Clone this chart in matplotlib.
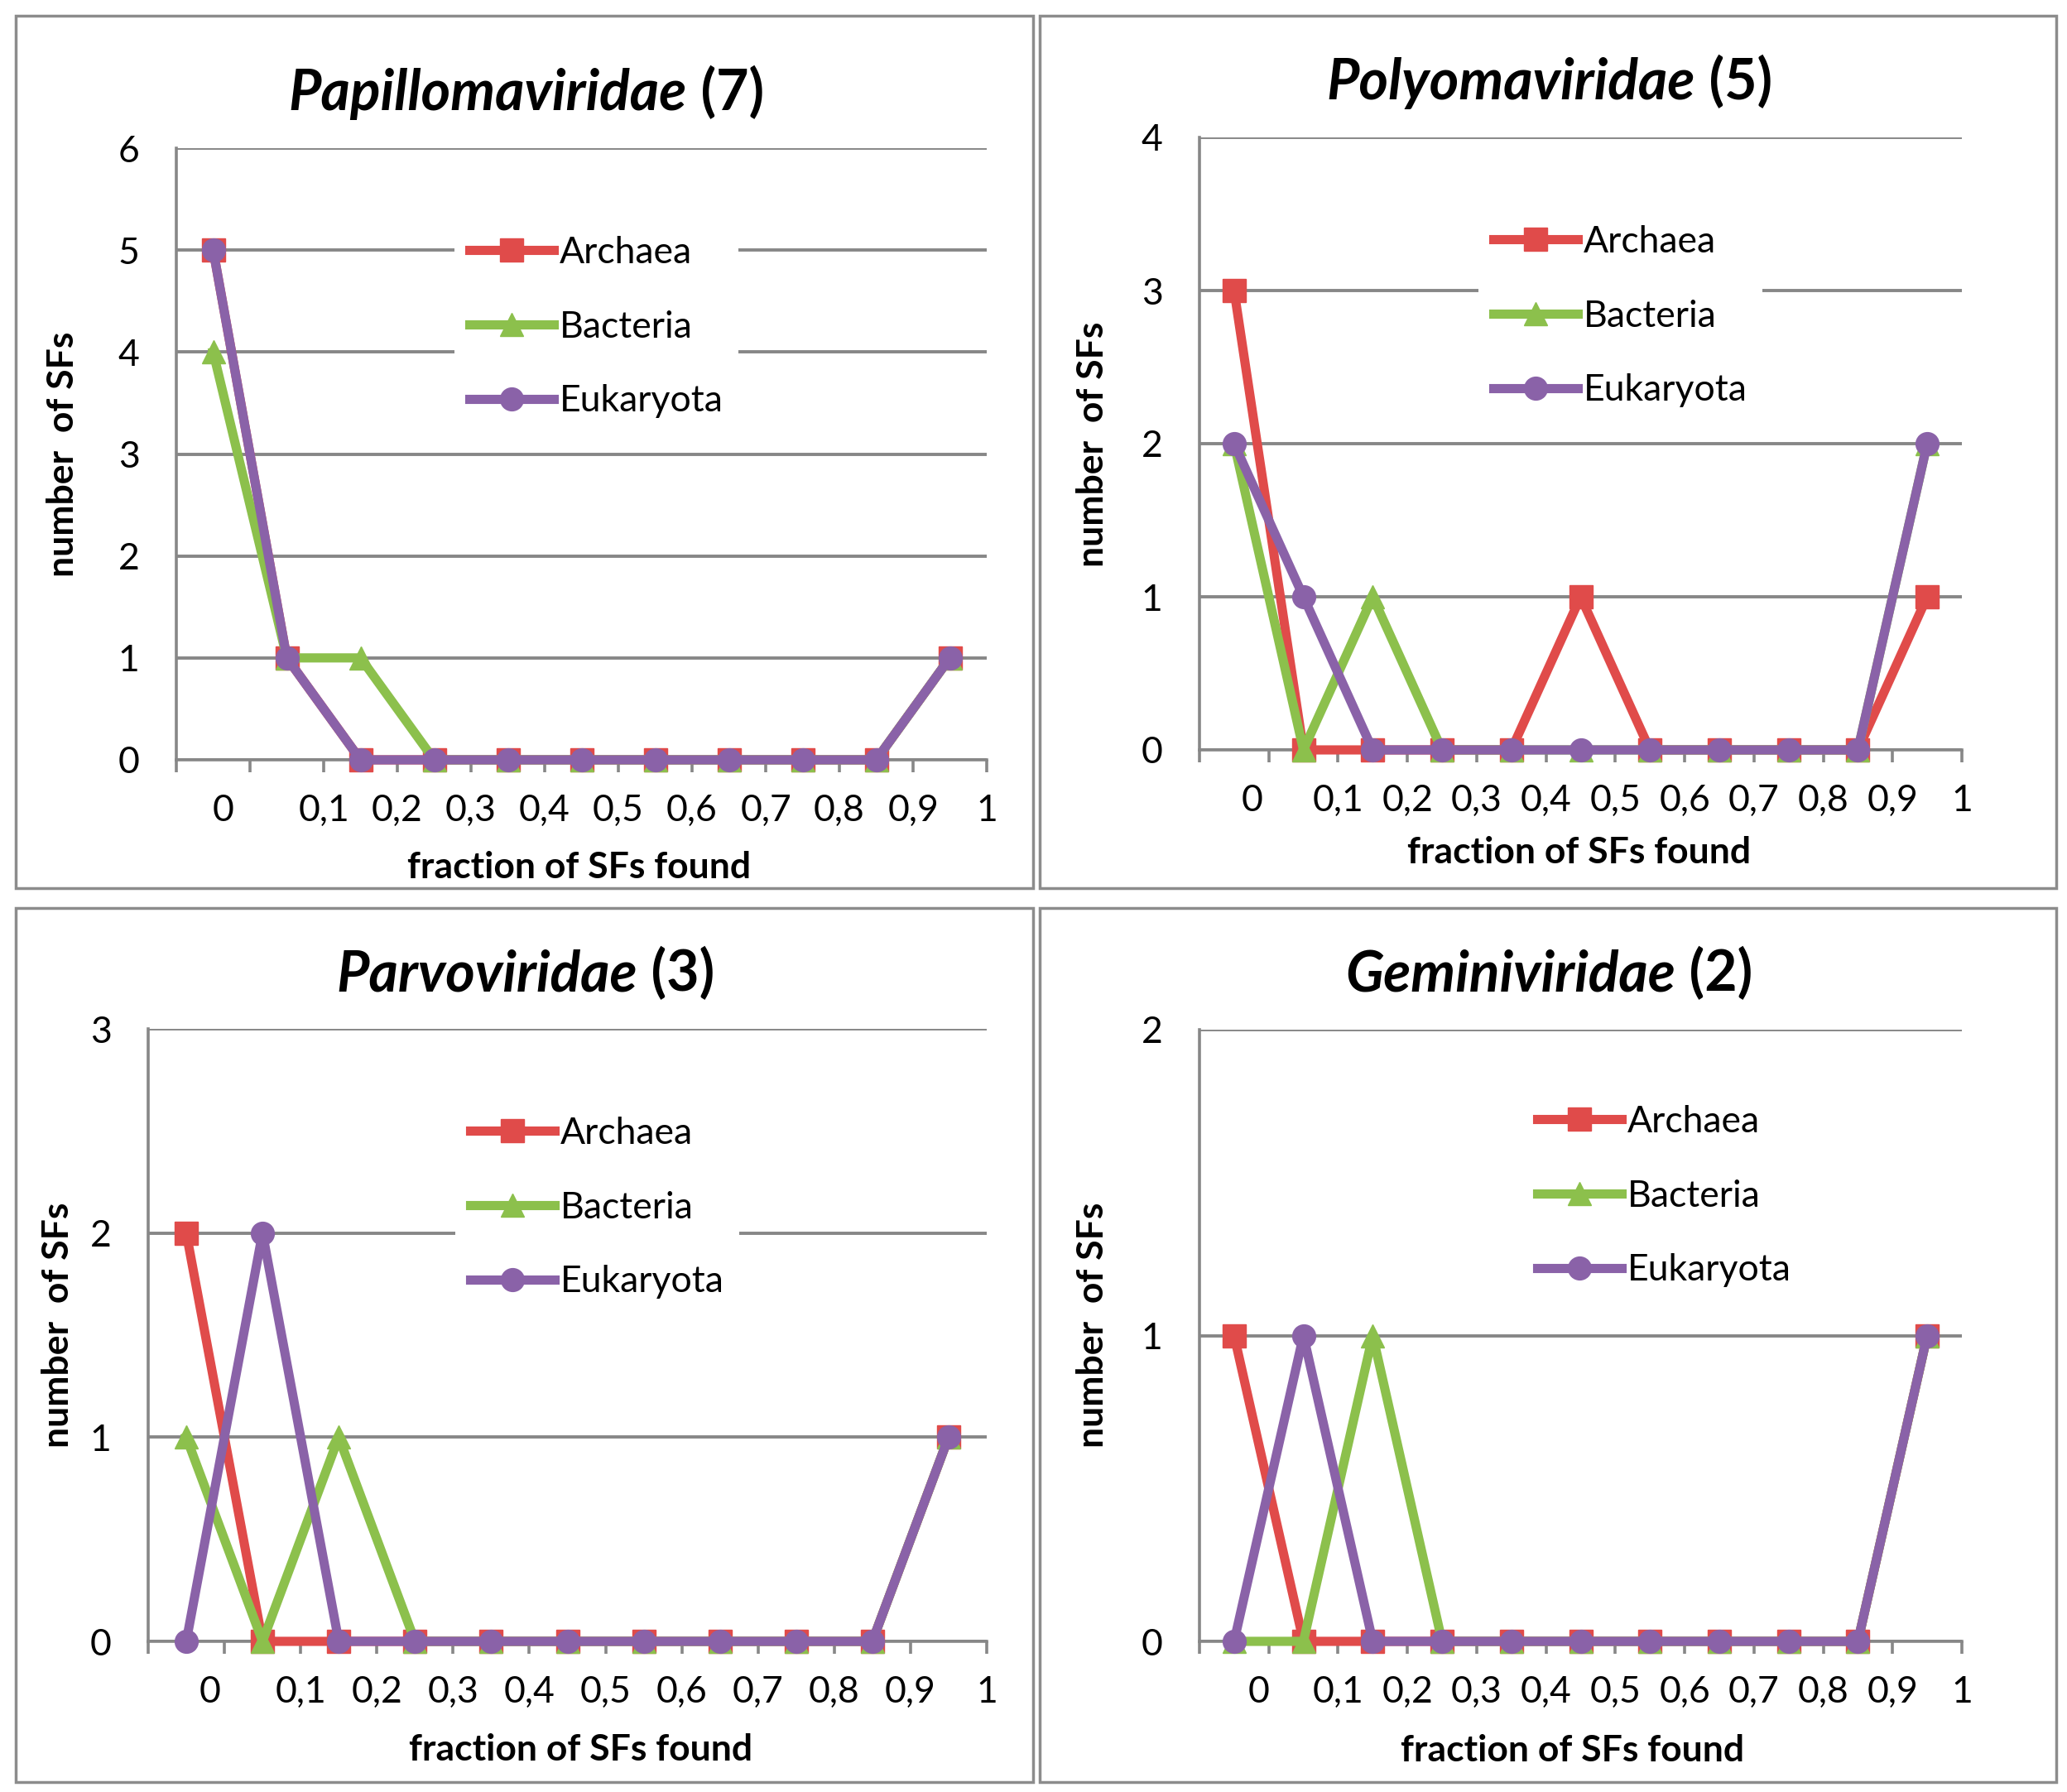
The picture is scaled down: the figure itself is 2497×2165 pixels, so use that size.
import numpy as np
import matplotlib
matplotlib.use("Agg")
import matplotlib.pyplot as plt
from matplotlib.patches import Rectangle

plt.rcParams['font.family'] = ['Lato', 'DejaVu Sans']

W, H = 2497, 2165
DPI = 100
PT = DPI / 72.0  # pixels per point

# ---- data -------------------------------------------------------------
FRACTION_LABELS = ["0", "0,1", "0,2", "0,3", "0,4", "0,5", "0,6", "0,7", "0,8", "0,9", "1"]
DOMAINS = ["Archaea", "Bacteria", "Eukaryota"]

FAMILIES = ["Papillomaviridae", "Polyomaviridae", "Parvoviridae", "Geminiviridae"]
FAMILY_COUNTS = [7, 5, 3, 2]
Y_MAX = [6, 4, 3, 2]

papillo_archaea = [5, 1, 0, 0, 0, 0, 0, 0, 0, 0, 1]
papillo_bacteria = [4, 1, 1, 0, 0, 0, 0, 0, 0, 0, 1]
papillo_eukaryota = [5, 1, 0, 0, 0, 0, 0, 0, 0, 0, 1]

polyoma_archaea = [3, 0, 0, 0, 0, 1, 0, 0, 0, 0, 1]
polyoma_bacteria = [2, 0, 1, 0, 0, 0, 0, 0, 0, 0, 2]
polyoma_eukaryota = [2, 1, 0, 0, 0, 0, 0, 0, 0, 0, 2]

parvo_archaea = [2, 0, 0, 0, 0, 0, 0, 0, 0, 0, 1]
parvo_bacteria = [1, 0, 1, 0, 0, 0, 0, 0, 0, 0, 1]
parvo_eukaryota = [0, 2, 0, 0, 0, 0, 0, 0, 0, 0, 1]

gemini_archaea = [1, 0, 0, 0, 0, 0, 0, 0, 0, 0, 1]
gemini_bacteria = [0, 0, 1, 0, 0, 0, 0, 0, 0, 0, 1]
gemini_eukaryota = [0, 1, 0, 0, 0, 0, 0, 0, 0, 0, 1]

SERIES = [
    [papillo_archaea, papillo_bacteria, papillo_eukaryota],
    [polyoma_archaea, polyoma_bacteria, polyoma_eukaryota],
    [parvo_archaea, parvo_bacteria, parvo_eukaryota],
    [gemini_archaea, gemini_bacteria, gemini_eukaryota],
]

# ---- style ------------------------------------------------------------
COLORS = ["#E04B4A", "#8CC04C", "#8A62A8"]
MARKERS = ["s", "^", "o"]
GRAY = "#878787"

# layout, in pixels of the final image
# axes box: left, top, right, bottom
AX_BOX = [(213, 179, 1192, 918), (1449, 166, 2370, 906),
          (179, 1243, 1192, 1983), (1449, 1244, 2370, 1983)]
PANEL_BOX = [(19, 19, 1248, 1073), (1256, 19, 2484, 1073),
             (19, 1097, 1248, 2153), (1256, 1097, 2484, 2153)]
TITLE_POS = [(636, 133), (1872, 120), (635, 1197), (1871, 1197)]
YLABEL_POS = [(76, 549), (1320, 537), (70, 1601), (1320, 1601)]
XLABEL_POS = [(700, 1048), (1908, 1030), (702, 2114), (1900, 2115)]
LEGEND_POS = [(567, 395), (1804, 382), (568, 1459), (1857, 1445)]
ZERO_LABEL_X = [0.14, 0.26, 0.31, 0.35]

TICK_FS = 32
LEG_FS = 32
LABEL_FS = 32
TITLE_FS = 49

fig = plt.figure(figsize=(W / DPI, H / DPI), dpi=DPI)
fig.patch.set_facecolor("white")

titles = []
for i, fam in enumerate(FAMILIES):
    l, t, r, b = AX_BOX[i]
    ax = fig.add_axes([l / W, 1 - b / H, (r - l) / W, (b - t) / H])
    x = np.arange(len(FRACTION_LABELS))
    for vals, name, c, m in zip(SERIES[i], DOMAINS, COLORS, MARKERS):
        ax.plot(x, vals, color=c, lw=8, marker=m, ms=20, mfc=c, mec=c,
                label=name, clip_on=False, zorder=3)

    ax.set_xlim(-0.5, len(x) - 0.5)
    ax.set_ylim(0, Y_MAX[i])

    ax.set_xticks(np.arange(-0.5, len(x) + 0.5, 1),
                  labels=["", ""] + FRACTION_LABELS[1:])
    ax.set_xticks([ZERO_LABEL_X[i]], labels=[FRACTION_LABELS[0]], minor=True)
    ax.tick_params(axis="x", which="major", length=15 / PT, width=2.6,
                   color=GRAY, pad=19, labelsize=TICK_FS)
    ax.tick_params(axis="x", which="minor", length=0, pad=19 + 15 / PT,
                   labelsize=TICK_FS)
    ax.set_yticks(range(Y_MAX[i] + 1))
    ax.tick_params(axis="y", length=0, pad=32, labelsize=TICK_FS)

    ax.yaxis.grid(True, color=GRAY, lw=2.8)
    ax.set_axisbelow(True)
    for s in ["top", "right"]:
        ax.spines[s].set_visible(False)
    for s in ["left", "bottom"]:
        ax.spines[s].set_color(GRAY)
        ax.spines[s].set_linewidth(2.6)

    ax.set_ylabel("number  of SFs", fontsize=LABEL_FS, fontweight="bold")
    ax.yaxis.set_label_coords(YLABEL_POS[i][0] / W, 1 - YLABEL_POS[i][1] / H,
                              transform=fig.transFigure)
    ax.yaxis.label.set_va("center")
    ax.set_xlabel("fraction of SFs found", fontsize=LABEL_FS, fontweight="bold")
    ax.xaxis.set_label_coords(XLABEL_POS[i][0] / W, 1 - XLABEL_POS[i][1] / H,
                              transform=fig.transFigure)
    ax.xaxis.label.set_va("center")

    bp = 0.4
    hx, hy = LEGEND_POS[i]
    hx -= bp * LEG_FS * PT
    ax.legend(loc="center left", bbox_to_anchor=(hx / W, 1 - hy / H),
              bbox_transform=fig.transFigure, borderaxespad=0, frameon=True,
              facecolor="white", edgecolor="none", framealpha=1, fancybox=False,
              fontsize=LEG_FS, handlelength=2.3, handletextpad=0.15,
              labelspacing=1.1, borderpad=bp, numpoints=1)

    # title: italic family name + upright count
    tx, ty = TITLE_POS[i]
    t1 = fig.text(0, 1 - ty / H, fam, fontsize=TITLE_FS, fontweight="bold",
                  fontstyle="italic", va="baseline", ha="left")
    t2 = fig.text(0, 1 - ty / H, f" ({FAMILY_COUNTS[i]})", fontsize=TITLE_FS,
                  fontweight="bold", va="baseline", ha="left")
    titles.append((t1, t2, tx))

    x0, y0, x1, y1 = PANEL_BOX[i]
    fig.add_artist(Rectangle((x0 / W, 1 - y1 / H), (x1 - x0) / W, (y1 - y0) / H,
                             transform=fig.transFigure, fill=False,
                             ec="#8C8C8C", lw=2.5))

fig.canvas.draw()
renderer = fig.canvas.get_renderer()
for t1, t2, cx in titles:
    w1 = t1.get_window_extent(renderer).width
    w2 = t2.get_window_extent(renderer).width
    start = cx - (w1 + w2) / 2
    t1.set_x(start / W)
    t2.set_x((start + w1) / W)

fig.savefig("out.png", dpi=DPI)
